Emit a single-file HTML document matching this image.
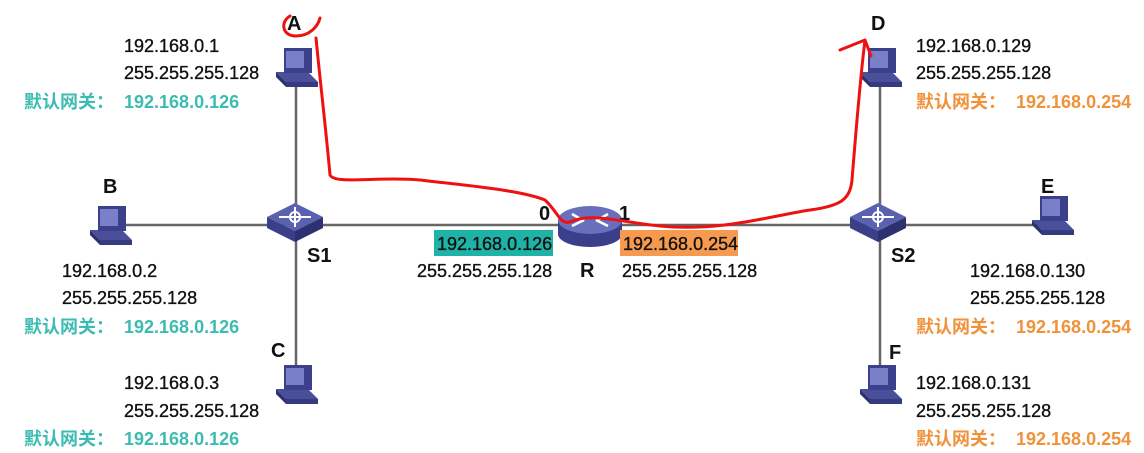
<!DOCTYPE html>
<html><head><meta charset="utf-8"><style>
html,body{margin:0;padding:0;background:#fff;}
svg{display:block;}
text{font-family:"Liberation Sans","Noto Sans CJK SC",sans-serif;}
.t{font-size:18px;fill:#111;stroke:#111;stroke-width:0.35;}
.b{font-size:20px;font-weight:bold;fill:#111;}
.g1{font-size:18px;font-weight:bold;fill:#3cbcb0;}
.g2{font-size:18px;font-weight:bold;fill:#f0923a;}
</style></head><body>
<svg width="1144" height="453" viewBox="0 0 1144 453">
<defs>
<g id="pc">
<polygon points="-20,6 12,6 22,16 -10,16" fill="#4a4f9a"/>
<polygon points="-20,6 -10,16 -10,21 -20,11" fill="#2d3170"/>
<polygon points="-10,16 22,16 22,21 -10,21" fill="#363a80"/>
<rect x="-12" y="-18" width="28" height="25" fill="#3b3f8c"/>
<rect x="-10" y="-15" width="18" height="17" fill="#7a80c8"/>
</g>
<g id="sw">
<polygon points="0,-17 28,-3 0,11 -28,-3" fill="#5a62b0"/>
<polygon points="-28,-3 0,11 0,22 -28,8" fill="#3a3f8a"/>
<polygon points="28,-3 0,11 0,22 28,8" fill="#2d3170"/>
<circle cx="0" cy="-3" r="5" fill="none" stroke="#fff" stroke-width="2"/>
<path d="M-16,-3 H16 M0,-13 V7" stroke="#fff" stroke-width="2"/>
</g>
</defs>
<g stroke="#666" stroke-width="2.5">
<line x1="296" y1="80" x2="296" y2="380"/>
<line x1="120" y1="225" x2="1045" y2="225"/>
<line x1="880" y1="80" x2="880" y2="380"/>
</g>
<use href="#pc" x="296" y="66"/>
<use href="#pc" x="110" y="224"/>
<use href="#pc" x="296" y="383"/>
<use href="#pc" x="880" y="66"/>
<use href="#pc" x="1052" y="214"/>
<use href="#pc" x="880" y="383"/>
<use href="#sw" x="295" y="220"/>
<use href="#sw" x="878" y="220"/>
<g>
<ellipse cx="590" cy="234" rx="32" ry="13" fill="#3a3f8a"/>
<rect x="558" y="220" width="64" height="14" fill="#3a3f8a"/>
<ellipse cx="590" cy="220" rx="32" ry="14" fill="#6870bd"/>
<path d="M572,214 l12,7 M608,214 l-12,7 M572,226 l12,-6 M608,226 l-12,-6" stroke="#fff" stroke-width="2.5"/>
</g>
<rect x="434" y="230" width="119" height="26" fill="#1fb3a8"/>
<rect x="620" y="230" width="118" height="26" fill="#f59a4e"/>
<g>
<text class="b" x="287" y="30">A</text><text class="b" x="103" y="193">B</text><text class="b" x="271" y="357">C</text>
<text class="b" x="871" y="30">D</text><text class="b" x="1041" y="193">E</text><text class="b" x="889" y="359">F</text>
<text class="b" x="307" y="262">S1</text><text class="b" x="891" y="262">S2</text><text class="b" x="580" y="277">R</text>
<text class="b" x="539" y="220">0</text><text class="b" x="619" y="220">1</text>
<text class="t" x="437" y="250">192.168.0.126</text><text class="t" x="417" y="277">255.255.255.128</text>
<text class="t" x="623" y="250">192.168.0.254</text><text class="t" x="622" y="277">255.255.255.128</text>

<text class="t" x="124" y="52">192.168.0.1</text><text class="t" x="124" y="79">255.255.255.128</text>
<text class="g1" x="24" y="108">默认网关：</text><text class="g1" x="124" y="108">192.168.0.126</text>
<text class="t" x="62" y="277">192.168.0.2</text><text class="t" x="62" y="304">255.255.255.128</text>
<text class="g1" x="24" y="333">默认网关：</text><text class="g1" x="124" y="333">192.168.0.126</text>
<text class="t" x="124" y="389">192.168.0.3</text><text class="t" x="124" y="417">255.255.255.128</text>
<text class="g1" x="24" y="445">默认网关：</text><text class="g1" x="124" y="445">192.168.0.126</text>

<text class="t" x="916" y="52">192.168.0.129</text><text class="t" x="916" y="79">255.255.255.128</text>
<text class="g2" x="916" y="108">默认网关：</text><text class="g2" x="1016" y="108">192.168.0.254</text>
<text class="t" x="970" y="277">192.168.0.130</text><text class="t" x="970" y="304">255.255.255.128</text>
<text class="g2" x="916" y="333">默认网关：</text><text class="g2" x="1016" y="333">192.168.0.254</text>
<text class="t" x="916" y="389">192.168.0.131</text><text class="t" x="916" y="417">255.255.255.128</text>
<text class="g2" x="916" y="445">默认网关：</text><text class="g2" x="1016" y="445">192.168.0.254</text>
</g>
<g fill="none" stroke="#ee1111" stroke-width="3" stroke-linecap="round">
<path d="M290,16 C280,22 282,36 296,36 C310,36 318,26 320,18"/>
<path d="M316,38 C320,80 326,130 330,175 C335,185 380,176 420,180 C470,186 520,190 545,200 C558,212 560,225 570,222 C590,212 620,222 660,226 C720,232 770,216 810,210 C840,206 850,200 852,180 C856,130 860,80 865,40 L871,56 M865,40 L840,50"/>
</g>
</svg>
</body></html>
